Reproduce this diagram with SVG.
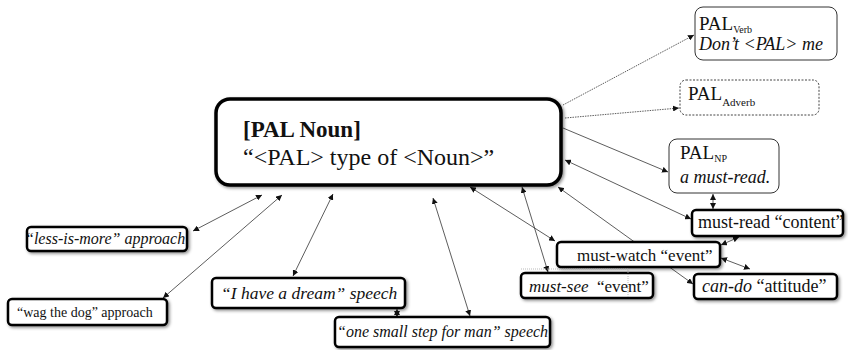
<svg xmlns="http://www.w3.org/2000/svg" width="848" height="350" viewBox="0 0 848 350" font-family="'Liberation Serif', 'DejaVu Serif', serif">
  <style>
    text { fill: #111; }
    .it { font-style: italic; }
    .bold { font-weight: bold; }
    .main { fill: #fff; stroke: #000; stroke-width: 3.5; filter: url(#soft); }
    .thick { fill: #fff; stroke: #000; stroke-width: 2.5; filter: url(#soft); }
    .thin { fill: #fff; stroke: #333; stroke-width: 1; }
    .dash { fill: #fff; stroke: #444; stroke-width: 1; stroke-dasharray: 2 1.5; }
    .edge { fill: none; stroke: #333; stroke-width: 0.8; }
    .dot { stroke-dasharray: 1.5 1; }
    .ghost { fill: none; stroke: #aaa; stroke-width: 0.8; stroke-dasharray: 1 1; }
  </style>
  <defs>
    <filter id="soft" x="-10%" y="-30%" width="120%" height="160%">
      <feDropShadow dx="1.5" dy="1.5" stdDeviation="1.5" flood-color="#000" flood-opacity="0.45"/>
    </filter>
    <marker id="tip" viewBox="0 0 10 10" refX="10" refY="5" markerWidth="6" markerHeight="6" markerUnits="userSpaceOnUse" orient="auto-start-reverse">
      <path d="M0,0 L10,5 L0,10 Z" fill="#111"/>
    </marker>
    <clipPath id="clipLess"><rect x="27" y="227" width="160" height="24"/></clipPath>
  </defs>

  <!-- connectors -->
  <g id="connectors">
    <line class="edge dot" x1="563" y1="105" x2="694" y2="35" marker-end="url(#tip)"/>
    <line class="edge dot" x1="565" y1="118" x2="679" y2="108" marker-end="url(#tip)"/>
    <line class="edge" x1="563" y1="128" x2="668" y2="172" marker-end="url(#tip)"/>
    <line class="edge" x1="565" y1="160" x2="691" y2="219" marker-start="url(#tip)" marker-end="url(#tip)"/>
    <line class="edge" x1="558" y1="187" x2="693" y2="284" marker-start="url(#tip)" marker-end="url(#tip)"/>
    <line class="edge" x1="522" y1="187" x2="548" y2="272" marker-start="url(#tip)" marker-end="url(#tip)"/>
    <line class="edge" x1="470" y1="187" x2="555" y2="241" marker-start="url(#tip)" marker-end="url(#tip)"/>
    <line class="edge" x1="433" y1="198" x2="470" y2="316" marker-start="url(#tip)" marker-end="url(#tip)"/>
    <line class="edge" x1="333" y1="194" x2="293" y2="276" marker-start="url(#tip)" marker-end="url(#tip)"/>
    <line class="edge" x1="282" y1="195" x2="163" y2="298" marker-start="url(#tip)" marker-end="url(#tip)"/>
    <line class="edge" x1="262" y1="195" x2="193" y2="231" marker-start="url(#tip)" marker-end="url(#tip)"/>
    <line class="edge" x1="713" y1="194" x2="713" y2="209" marker-start="url(#tip)" marker-end="url(#tip)"/>
    <line class="edge" x1="721" y1="245" x2="739" y2="237" marker-start="url(#tip)" marker-end="url(#tip)"/>
    <line class="edge" x1="721" y1="258" x2="750" y2="269" marker-start="url(#tip)" marker-end="url(#tip)"/>
    <line class="edge" x1="397" y1="309" x2="397" y2="317" marker-start="url(#tip)" marker-end="url(#tip)"/>
  </g>

  <g id="pal-noun">
    <rect class="main" x="216" y="99" width="345" height="86" rx="14"/>
    <text class="bold" x="243" y="137" font-size="23">[PAL Noun]</text>
    <text x="243" y="165" font-size="24">“&lt;PAL&gt; type of &lt;Noun&gt;”</text>
  </g>

  <g id="pal-verb">
    <rect class="thin" x="695" y="7" width="142" height="53" rx="8"/>
    <text x="699" y="30" font-size="19">PAL<tspan font-size="10" dy="3">Verb</tspan></text>
    <text class="it" x="699" y="50" font-size="18">Don’t &lt;PAL&gt; me</text>
  </g>

  <g id="pal-adverb">
    <rect class="dash" x="680" y="80" width="139" height="35" rx="6"/>
    <text x="688" y="100" font-size="19">PAL<tspan font-size="11" dy="6">Adverb</tspan></text>
  </g>

  <g id="pal-np">
    <rect class="thin" x="669" y="139" width="110" height="54" rx="8"/>
    <text x="680" y="159" font-size="19">PAL<tspan font-size="10" dy="3">NP</tspan></text>
    <text class="it" x="680" y="183" font-size="18">a must-read.</text>
  </g>

  <g id="must-read">
    <rect class="thick" x="692" y="210" width="151" height="26" rx="4"/>
    <text x="698" y="228" font-size="18">must-read “content”</text>
  </g>

  <g id="must-watch">
    <rect class="thick" x="557" y="242" width="163" height="25" rx="4"/>
    <text x="577" y="261" font-size="17">must-watch “event”</text>
  </g>

  <g id="must-see">
    <rect class="thick" x="521" y="273" width="132" height="25" rx="4"/>
    <path class="ghost" d="M521,269 H628 V298"/>
    <text x="529" y="292" font-size="17" xml:space="preserve"><tspan class="it">must-see</tspan>  “event”</text>
  </g>

  <g id="can-do">
    <rect class="thick" x="694" y="274" width="143" height="25" rx="4"/>
    <text x="702" y="292" font-size="18"><tspan class="it">can-do</tspan> “attitude”</text>
  </g>

  <g id="less-is-more">
    <rect class="thick" x="27" y="227" width="160" height="24" rx="4"/>
    <text class="it" x="25" y="244" font-size="16" clip-path="url(#clipLess)">“less-is-more” approach</text>
  </g>

  <g id="wag-the-dog">
    <rect class="thick" x="8" y="299" width="159" height="26" rx="4"/>
    <text x="17" y="317" font-size="14">“wag the dog” approach</text>
  </g>

  <g id="dream-speech">
    <rect class="thick" x="212" y="278" width="193" height="30" rx="4"/>
    <text class="it" x="221" y="299" font-size="17.5">“I have a dream” speech</text>
  </g>

  <g id="small-step-speech">
    <rect class="thick" x="335" y="317" width="215" height="30" rx="4"/>
    <text class="it" x="337" y="337" font-size="16">“one small step for man” speech</text>
  </g>
</svg>
